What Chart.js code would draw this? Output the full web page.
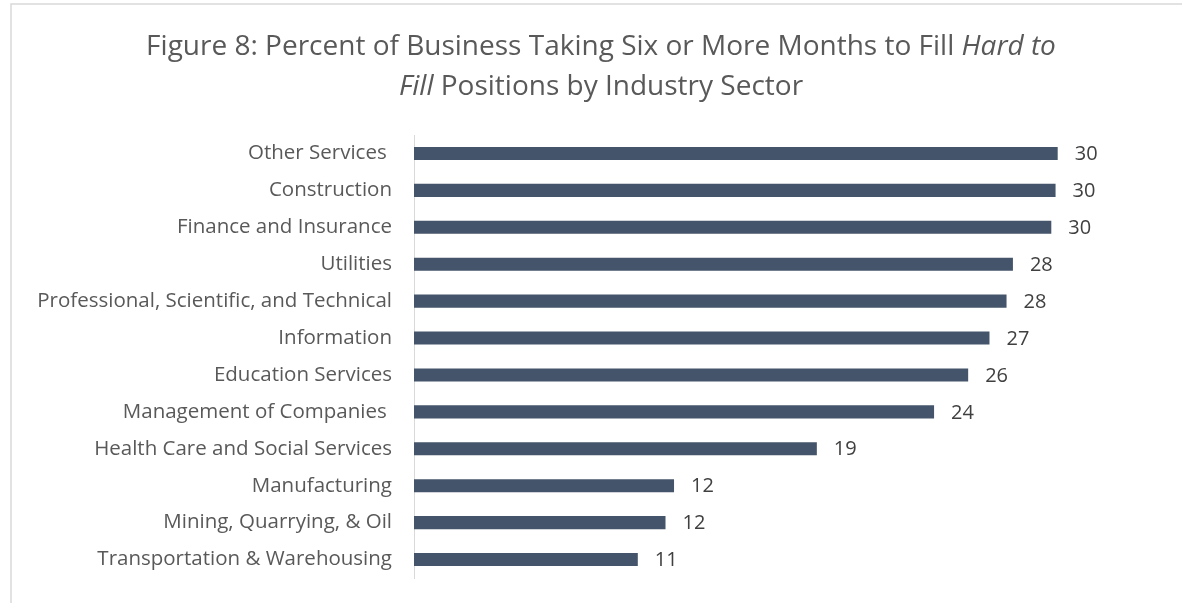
<!DOCTYPE html>
<html>
<head>
<meta charset="utf-8">
<script src="https://cdn.jsdelivr.net/npm/chart.js@4.4.1/dist/chart.umd.min.js"></script>
<style>
  html, body { margin: 0; padding: 0; background: #fff; }
  #wrap { position: relative; width: 1182px; height: 603px; }
</style>
</head>
<body>
<div id="wrap"><canvas id="sectorChart"></canvas></div>
<script>
// industry sectors, top to bottom
const sectors = [
  "Other Services ",
  "Construction",
  "Finance and Insurance",
  "Utilities",
  "Professional, Scientific, and Technical",
  "Information",
  "Education Services",
  "Management of Companies ",
  "Health Care and Social Services",
  "Manufacturing",
  "Mining, Quarrying, & Oil",
  "Transportation & Warehousing"
];

// percent of businesses taking 6+ months to fill hard-to-fill positions
const pctSixMonths = [30.2, 30.1, 29.9, 28.1, 27.8, 27.0, 26.0, 24.4, 18.9, 12.2, 11.8, 10.5];

const titleLines = [
  [["Figure 8: Percent of Business Taking Six or More Months to Fill ", false], ["Hard to", true]],
  [["Fill", true], [" Positions by Industry Sector", false]]
];

const FONT = "'Open Sans', 'Liberation Sans', sans-serif";

// frame + two-line title with italic fragments
const titlePlugin = {
  id: "figureTitle",
  beforeDraw(chart) {
    const ctx = chart.ctx;
    ctx.save();
    ctx.strokeStyle = "#d9d9d9";
    ctx.lineWidth = 1.5;
    ctx.strokeRect(11, 4, 1300, 700);
    ctx.restore();
  },
  afterDraw(chart) {
    const ctx = chart.ctx;
    const cx = 601;
    const baselines = [55, 95];
    ctx.save();
    ctx.fillStyle = "#595959";
    ctx.textBaseline = "alphabetic";
    ctx.textAlign = "left";
    titleLines.forEach((parts, i) => {
      let total = 0;
      parts.forEach(([txt, it]) => {
        ctx.font = (it ? "italic " : "") + "28px " + FONT;
        total += ctx.measureText(txt).width;
      });
      let x = cx - total / 2;
      parts.forEach(([txt, it]) => {
        ctx.font = (it ? "italic " : "") + "28px " + FONT;
        ctx.fillText(txt, x, baselines[i]);
        x += ctx.measureText(txt).width;
      });
    });
    ctx.restore();
  }
};

// value labels just past the end of each bar
const valueLabels = {
  id: "valueLabels",
  afterDatasetsDraw(chart) {
    const ctx = chart.ctx;
    const meta = chart.getDatasetMeta(0);
    ctx.save();
    ctx.font = "20px " + FONT;
    ctx.fillStyle = "#404040";
    ctx.textAlign = "left";
    ctx.textBaseline = "middle";
    meta.data.forEach((bar, i) => {
      ctx.fillText(String(Math.round(pctSixMonths[i])), bar.x + 17, bar.y + 1);
    });
    ctx.restore();
  }
};

new Chart(document.getElementById("sectorChart"), {
  type: "bar",
  data: {
    labels: sectors,
    datasets: [{
      data: pctSixMonths,
      backgroundColor: "#44546a",
      borderWidth: 0,
      categoryPercentage: 1,
      barPercentage: 0.353
    }]
  },
  options: {
    indexAxis: "y",
    responsive: true,
    maintainAspectRatio: false,
    animation: false,
    layout: { padding: { top: 135, bottom: 25, left: 0, right: 22 } },
    plugins: {
      legend: { display: false },
      tooltip: { enabled: false },
      title: { display: false }
    },
    scales: {
      x: {
        display: false,
        min: 0,
        max: 35
      },
      y: {
        afterFit(scale) {
          // fixed label column; let layout padding decide top/bottom
          scale.width = 414;
          scale.paddingTop = 0;
          scale.paddingBottom = 0;
        },
        grid: { display: false, drawTicks: false },
        border: { display: true, color: "#d9d9d9", width: 1 },
        ticks: {
          color: "#595959",
          padding: 22,
          font: { family: FONT, size: 20.5 }
        }
      }
    }
  },
  plugins: [titlePlugin, valueLabels]
});
</script>
</body>
</html>
